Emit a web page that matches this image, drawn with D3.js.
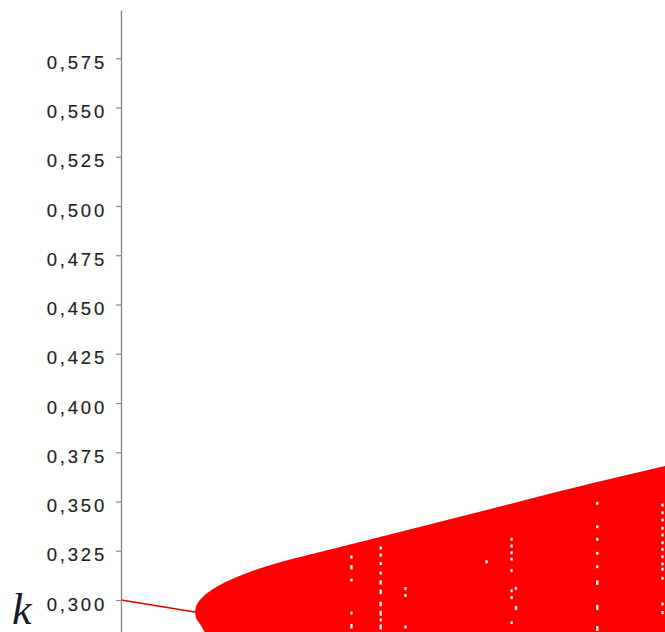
<!DOCTYPE html>
<html lang="en">
  <head>
    <meta charset="UTF-8" />
    <title>Bifurcation</title>
    <style>
      html, body { margin: 0; padding: 0; background: #fff; }
      svg { display: block; }
    </style>
  </head>
  <body>
    <svg id="svg" width="665" height="632"></svg>

    <script src="https://cdn.jsdelivr.net/npm/d3@7"></script>
    <script>
      // y axis ticks
      const TICKS = [0.3, 0.325, 0.35, 0.375, 0.4, 0.425, 0.45, 0.475, 0.5, 0.525, 0.55, 0.575];

      // single stable branch before the first split
      const FIXED_PARAM = [0, 13.6];
      const FIXED_VALUE = [0.3, 0.2939];

      // envelope of the chaotic band
      const BAND_PARAM = [13.6, 13.79, 14.06, 14.52, 15.07, 15.81, 16.73, 18.2, 20.04, 21.88, 23.71, 26.47, 29.23, 36.58, 47.61, 69.67, 87.5, 100];
      const BAND_UPPER = [0.2939, 0.29665, 0.29824, 0.30004, 0.30166, 0.3034, 0.30523, 0.30761, 0.31012, 0.31228, 0.31421, 0.31684, 0.31918, 0.32436, 0.33197, 0.34744, 0.35987, 0.36799];
      const BAND_LOWER = [0.2939, 0.29117, 0.2896, 0.28782, 0.28528, 0.2817, 0.278, 0.276, 0.275, 0.275, 0.275, 0.275, 0.275, 0.275, 0.275, 0.275, 0.275, 0.275];

      // periodic windows: white gaps inside the band, [from, to]
      const WINDOW_PARAM = [42.37, 47.74, 52.3, 67.2, 71.8, 72.6, 87.55, 99.54];
      const WINDOW_GAPS = [
        [[0.3218, 0.3218], [0.317, 0.3163], [0.3101, 0.3101], [0.2934, 0.2934], [0.2871, 0.2863]],
        [[0.3264, 0.3264], [0.3228, 0.3228], [0.3185, 0.3185], [0.3137, 0.3137], [0.3092, 0.3086],
         [0.3045, 0.3037], [0.2984, 0.2976], [0.2938, 0.2928], [0.2899, 0.2899], [0.2868, 0.2858]],
        [[0.3058, 0.3058], [0.3023, 0.3023], [0.2863, 0.2863]],
        [[0.3194, 0.3194]],
        [[0.3308, 0.3308], [0.3274, 0.3274], [0.324, 0.324], [0.3207, 0.3207], [0.3149, 0.3149],
         [0.3047, 0.3047], [0.3012, 0.3012], [0.2885, 0.2885]],
        [[0.3059, 0.3059], [0.2962, 0.2956]],
        [[0.3491, 0.3491], [0.3372, 0.3372], [0.3308, 0.3308], [0.3237, 0.3237], [0.3169, 0.3169],
         [0.3092, 0.3084], [0.2968, 0.2956], [0.286, 0.285]],
        [[0.3482, 0.3482], [0.3443, 0.3443], [0.3406, 0.3406], [0.3364, 0.3364], [0.333, 0.333],
         [0.3291, 0.3291], [0.3257, 0.3257], [0.322, 0.322], [0.3183, 0.3183], [0.3156, 0.3156],
         [0.311, 0.311], [0.298, 0.298], [0.2936, 0.2936]],
      ];

      const svg = d3.select("#svg");

      const xScale = d3.scaleLinear().domain([0, 100]).range([121, 665]);
      const yScale = d3.scaleLinear().domain([0.2835, 0.5995]).range([632.5, 10]);

      // band
      const band = BAND_PARAM.map((p, i) => ({ p, hi: BAND_UPPER[i], lo: BAND_LOWER[i] }));
      const area = d3
        .area()
        .x((d) => xScale(d.p))
        .y0((d) => yScale(d.lo))
        .y1((d) => yScale(d.hi))
        .curve(d3.curveMonotoneX);

      svg.append("path").attr("d", area(band)).attr("fill", "#ff0000");

      // stable branch
      const fixed = FIXED_PARAM.map((p, i) => ({ p, v: FIXED_VALUE[i] }));
      const line = d3
        .line()
        .x((d) => xScale(d.p))
        .y((d) => yScale(d.v));

      svg
        .append("path")
        .attr("d", line(fixed))
        .attr("fill", "none")
        .attr("stroke", "#e00000")
        .attr("stroke-width", 1.6);

      // white gaps
      const gaps = [];
      WINDOW_PARAM.forEach((p, i) => {
        WINDOW_GAPS[i].forEach((g) => gaps.push({ p, top: g[0], bottom: g[1] }));
      });

      svg
        .append("g")
        .selectAll("rect")
        .data(gaps)
        .join("rect")
        .attr("x", (d) => xScale(d.p) - 1.2)
        .attr("y", (d) => yScale(d.top) - 1.5)
        .attr("width", 2.4)
        .attr("height", (d) => yScale(d.bottom) - yScale(d.top) + 3)
        .attr("fill", "#fff4f4");

      // axis
      const fmt = d3.format(".3f");
      const leftAxis = d3
        .axisLeft(yScale)
        .tickValues(TICKS)
        .tickFormat((d) => fmt(d).replace(".", ","))
        .tickSize(5)
        .tickSizeOuter(0)
        .tickPadding(9);

      const axisG = svg.append("g").attr("transform", "translate(121, 0)").call(leftAxis);

      axisG.select(".domain").attr("stroke", "#8a8a8a").attr("stroke-width", 1.4);
      axisG.selectAll(".tick line").attr("stroke", "#8a8a8a").attr("stroke-width", 1.2);
      axisG
        .selectAll(".tick text")
        .attr("fill", "#222")
        .attr("stroke", "#333")
        .attr("stroke-width", 0.2)
        .attr("dy", "0.55em")
        .style("font-family", "'Liberation Sans', Arial, sans-serif")
        .style("font-size", "18.5px")
        .style("letter-spacing", "2.8px");

      // axis name
      svg
        .append("text")
        .attr("x", 12)
        .attr("y", 624)
        .attr("fill", "#1a1a2e")
        .style("font-family", "'Liberation Serif', 'Times New Roman', serif")
        .style("font-style", "italic")
        .style("font-size", "44px")
        .text("k");
    </script>
  </body>
</html>
